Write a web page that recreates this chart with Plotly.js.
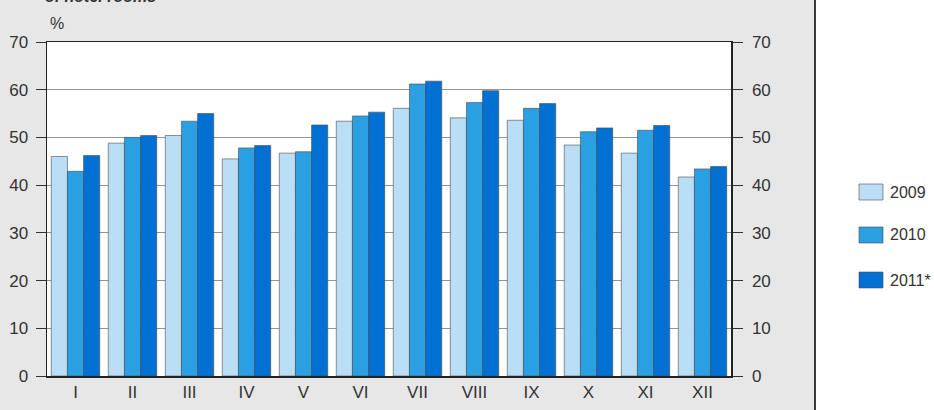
<!DOCTYPE html>
<html><head><meta charset="utf-8">
<script src="https://cdn.plot.ly/plotly-3.0.1.min.js"></script>
<style>html,body{margin:0;padding:0;background:#fff;}#chart{width:934px;height:410px;}</style>
</head><body><div id="chart"></div>
<script>
const months = ['I','II','III','IV','V','VI','VII','VIII','IX','X','XI','XII'];
const seriesNames = ['2009','2010','2011*'];
const v2009 = [46.0,48.8,50.4,45.5,46.7,53.4,56.1,54.1,53.6,48.4,46.7,41.7];
const v2010 = [42.9,50.0,53.4,47.8,47.0,54.5,61.2,57.3,56.1,51.2,51.5,43.4];
const v2011 = [46.2,50.4,55.0,48.3,52.6,55.3,61.8,59.8,57.1,52.0,52.5,43.9];
const yTicks = [0,10,20,30,40,50,60,70];
const colors = ['#b9def6','#2aa0e3','#0070d2'];
const values = [v2009, v2010, v2011];

const FONT = 'Liberation Sans, Arial, sans-serif';

const traces = values.map((v,i)=>({
  type:'bar', x:months, y:v, name:seriesNames[i],
  marker:{color:colors[i], line:{color:'#4a4a4a', width:0.6}},
  showlegend:false, hoverinfo:'skip'
}));
// invisible trace for the right axis
traces.push({type:'scatter', x:months, y:v2009, yaxis:'y2', mode:'none', showlegend:false, hoverinfo:'skip'});

const L=47, R=203, T=42, B=34, W=934, H=410;
const pw=W-L-R, ph=H-T-B;
const px2x = p => (p-L)/pw;
const py2y = p => 1-(p-T)/ph;

const shapes = [
  {type:'rect', xref:'paper', yref:'paper', x0:px2x(815), x1:px2x(940), y0:py2y(415), y1:py2y(-5), fillcolor:'#ffffff', line:{width:0}, layer:'below'},
  {type:'line', xref:'paper', yref:'paper', x0:px2x(815), x1:px2x(815), y0:py2y(415), y1:py2y(-5), line:{color:'#3a3a3a', width:2}, layer:'below'},
  {type:'rect', xref:'paper', yref:'paper', x0:0, x1:1, y0:0, y1:1, fillcolor:'#ffffff', line:{width:0}, layer:'below'}
];
const annotations = [
  {xref:'paper', yref:'paper', x:px2x(43), y:py2y(7), xanchor:'left', yanchor:'bottom', showarrow:false,
   text:'<b><i>of hotel rooms</i></b>', font:{family:'Liberation Sans, Arial, sans-serif', size:16, color:'#333'}},
  {xref:'paper', yref:'paper', x:px2x(57), y:py2y(24), xanchor:'center', yanchor:'middle', showarrow:false,
   text:'%', font:{family:FONT, size:16, color:'#333'}}
];
const legY = [192, 235, 280];
seriesNames.forEach((n,i)=>{
  shapes.push({type:'rect', xref:'paper', yref:'paper', x0:px2x(859), x1:px2x(883), y0:py2y(legY[i]+8), y1:py2y(legY[i]-8),
    fillcolor:colors[i], line:{color:'#4a4a4a', width:0.6}});
  annotations.push({xref:'paper', yref:'paper', x:px2x(888), y:py2y(legY[i]), xanchor:'left', yanchor:'middle', showarrow:false,
    text:n, font:{family:FONT, size:16, color:'#333'}});
});

const yCommon = {range:[0,70], tickvals:yTicks, ticks:'outside', ticklen:10, tickcolor:'#333', tickwidth:1,
  showline:true, linecolor:'#222', linewidth:1.5, zeroline:false, fixedrange:true,
  tickfont:{family:FONT, size:17, color:'#333'}};

const layout = {
  width:W, height:H, margin:{l:L, r:R, t:T, b:B, pad:0},
  paper_bgcolor:'#e7e7e7', plot_bgcolor:'#ffffff',
  barmode:'group', bargap:0.15, bargroupgap:0,
  showlegend:false,
  xaxis:{type:'category', showline:true, mirror:true, linecolor:'#222', linewidth:1.5, ticks:'', showgrid:false,
    tickfont:{family:FONT, size:17, color:'#333'}, fixedrange:true},
  yaxis:Object.assign({}, yCommon, {side:'left', showgrid:true, gridcolor:'#7a7a7a', gridwidth:0.8, ticklabelstandoff:4}),
  yaxis2:Object.assign({}, yCommon, {side:'right', overlaying:'y', showgrid:false, ticklabelstandoff:6}),
  shapes:shapes, annotations:annotations
};
Plotly.newPlot('chart', traces, layout, {staticPlot:true, displayModeBar:false});
</script></body></html>
